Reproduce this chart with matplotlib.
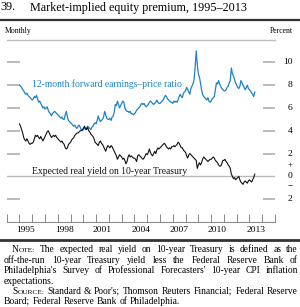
import numpy as np
import matplotlib
matplotlib.use("Agg")
import matplotlib.pyplot as plt
from matplotlib.transforms import IdentityTransform, blended_transform_factory

plt.rcParams['font.family'] = ['Liberation Serif', 'DejaVu Serif']

# ---------------- data ----------------
start_year = 1995
ep_ratio = [
    8.0, 7.9, 7.8, 7.6, 7.5, 7.3, 7.2, 7.3, 7.1, 7.0, 6.9, 6.8,   # 1995
    6.7, 6.8, 7.0, 6.9, 7.1, 6.8, 6.5, 6.6, 6.4, 6.2, 6.0, 6.1,   # 1996
    5.9, 6.0, 6.1, 5.8, 5.6, 5.5, 5.3, 5.5, 5.6, 5.7, 5.6, 5.5,   # 1997
    5.4, 5.3, 5.2, 5.1, 5.2, 5.0, 5.0, 5.4, 5.7, 5.2, 4.9, 4.8,   # 1998
    4.7, 4.6, 4.5, 4.4, 4.5, 4.3, 4.2, 4.4, 4.5, 4.3, 4.1, 4.0,   # 1999
    4.1, 4.3, 4.1, 4.2, 4.4, 4.3, 4.2, 4.1, 4.3, 4.4, 4.6, 4.7,   # 2000
    4.6, 4.9, 5.3, 5.0, 4.8, 4.9, 5.0, 5.2, 5.7, 5.4, 5.1, 5.0,   # 2001
    5.0, 5.1, 4.9, 5.2, 5.3, 5.6, 6.3, 6.2, 6.6, 6.3, 6.0, 6.2,   # 2002
    6.4, 6.6, 6.5, 6.0, 5.8, 5.7, 5.7, 5.6, 5.7, 5.5, 5.5, 5.4,   # 2003
    5.5, 5.6, 5.8, 5.9, 6.0, 6.1, 6.3, 6.4, 6.3, 6.4, 6.2, 6.1,   # 2004
    6.2, 6.3, 6.5, 6.6, 6.5, 6.4, 6.3, 6.4, 6.5, 6.7, 6.5, 6.4,   # 2005
    6.4, 6.5, 6.6, 6.7, 6.9, 7.1, 7.0, 6.8, 6.7, 6.6, 6.5, 6.5,   # 2006
    6.4, 6.6, 6.5, 6.6, 6.5, 6.7, 7.0, 7.2, 7.0, 6.9, 7.3, 7.4,   # 2007
    7.5, 7.8, 7.6, 7.4, 7.2, 7.7, 7.9, 8.1, 8.5, 9.6, 11.0, 9.8,  # 2008
    9.0, 8.7, 8.2, 7.6, 7.2, 7.0, 6.9, 6.8, 6.7, 6.9, 6.6, 6.5,   # 2009
    6.6, 6.8, 6.9, 7.0, 7.6, 8.2, 8.1, 8.4, 8.1, 7.9, 7.7, 7.6,   # 2010
    7.5, 7.5, 7.6, 7.8, 7.9, 8.2, 8.4, 9.5, 9.0, 8.8, 8.5, 8.2,   # 2011
    8.0, 7.8, 7.7, 7.9, 8.4, 8.2, 8.0, 7.8, 7.6, 7.8, 8.0, 7.7,   # 2012
    7.6, 7.5, 7.3, 7.2, 7.0, 7.4,                                  # 2013
]
real_yield = [
    4.6, 4.4, 4.1, 3.8, 3.4, 3.2, 3.1, 3.3, 3.1, 2.9, 2.8, 2.9,   # 1995
    2.9, 3.0, 3.3, 3.6, 3.5, 3.6, 3.4, 3.3, 3.5, 3.3, 3.1, 3.3,   # 1996
    3.5, 3.7, 3.9, 4.0, 3.8, 3.6, 3.4, 3.5, 3.6, 3.5, 3.6, 3.4,   # 1997
    3.3, 3.2, 3.1, 3.0, 3.1, 2.9, 2.8, 2.5, 2.4, 2.5, 2.8, 2.9,   # 1998
    3.0, 3.2, 3.3, 3.4, 3.6, 3.7, 3.8, 3.8, 3.9, 4.0, 4.0, 4.1,   # 1999
    4.2, 4.4, 4.2, 4.1, 4.3, 4.0, 3.9, 3.7, 3.6, 3.5, 3.3, 3.0,   # 2000
    2.9, 2.8, 2.7, 3.0, 3.1, 2.9, 2.8, 2.6, 2.4, 2.2, 2.5, 2.7,   # 2001
    2.6, 2.5, 2.7, 2.6, 2.4, 2.2, 2.0, 1.8, 1.5, 1.7, 1.9, 1.8,   # 2002
    1.7, 1.5, 1.6, 1.4, 1.1, 1.3, 1.7, 1.9, 1.7, 1.8, 1.7, 1.6,   # 2003
    1.6, 1.5, 1.3, 1.8, 1.9, 1.8, 1.7, 1.6, 1.5, 1.6, 1.8, 2.0,   # 2004
    1.9, 2.1, 2.4, 2.1, 1.9, 1.8, 2.0, 2.2, 2.0, 2.3, 2.5, 2.4,   # 2005
    2.5, 2.6, 2.7, 2.8, 2.9, 2.8, 2.6, 2.5, 2.4, 2.5, 2.4, 2.6,   # 2006
    2.6, 2.7, 2.6, 2.7, 2.8, 3.0, 2.9, 2.7, 2.5, 2.5, 2.3, 2.2,   # 2007
    2.1, 1.8, 1.6, 1.9, 2.0, 1.9, 1.8, 1.7, 1.6, 1.5, 1.4, 0.7,   # 2008
    1.0, 1.2, 1.0, 1.2, 1.5, 1.7, 1.6, 1.5, 1.4, 1.3, 1.4, 1.5,   # 2009
    1.5, 1.6, 1.7, 1.6, 1.4, 1.3, 1.2, 1.0, 0.9, 0.9, 1.1, 1.4,   # 2010
    1.4, 1.5, 1.3, 1.2, 1.0, 0.9, 0.7, 0.2, 0.0, -0.2, -0.1, -0.3,  # 2011
    -0.2, -0.1, 0.0, -0.3, -0.5, -0.6, -0.7, -0.5, -0.4, -0.5, -0.6, -0.4,  # 2012
    -0.3, -0.4, -0.5, -0.3, -0.1, 0.2,                             # 2013
]
year_labels = [1995, 1998, 2001, 2004, 2007, 2010, 2013]
ytick_values = [-2, 2, 4, 6, 8, 10]
ytick_labels = ['2', '2', '4', '6', '8', '10']

title_num = "39."
title_text = "Market-implied equity premium, 1995\u20132013"
series1_label = "12-month forward earnings\u2013price ratio"
series2_label = "Expected real yield on 10-year Treasury"

W, H = 300, 307
fig = plt.figure(figsize=(W / 100, H / 100), dpi=100)

def fx(px):
    return px / W

def fy(py):
    return 1 - py / H

ax = fig.add_axes([fx(6.7), fy(222), fx(275) - fx(6.7), fy(39.5) - fy(222)])
t1 = start_year + np.arange(len(ep_ratio)) / 12.0
t2 = start_year + np.arange(len(real_yield)) / 12.0
BLUE = '#1f82c2'
GRAY = '#a8a8a8'
ax.axhline(0, color='#b8b8b8', lw=1.0, zorder=1)
ax.plot(t1, ep_ratio, color=BLUE, lw=0.9, zorder=3)
ax.plot(t2, real_yield, color='#111111', lw=0.8, zorder=3)
ax.set_xlim(1994, 2015)
ax.set_ylim(-4, 12)

for s in ['left', 'right']:
    ax.spines[s].set_visible(False)
ax.spines['top'].set_color('#bdbdbd')
ax.spines['top'].set_linewidth(1.0)
ax.spines['bottom'].set_color('#8a8a8a')
ax.spines['bottom'].set_linewidth(0.8)

ax.set_xticks(np.arange(1994, 2016))
ax.set_xticklabels([])
ax.set_xticks([y + 0.5 for y in year_labels], minor=True)
ax.set_xticklabels([str(y) for y in year_labels], minor=True, fontsize=6.8)
ax.tick_params(axis='x', which='major', direction='in', length=5.5, width=0.7, color='#8a8a8a')
ax.tick_params(axis='x', which='minor', length=0, pad=3.2)

ax.set_yticks(ytick_values)
ax.set_yticklabels([])
ax.tick_params(axis='y', direction='in', length=9, width=1.1, color=GRAY,
               left=True, right=True, labelleft=False, labelright=False)

trans = blended_transform_factory(fig.transFigure, ax.transData)
for v, lab in zip(ytick_values, ytick_labels):
    ax.text(fx(292.5), v, lab, transform=trans, ha='right', va='center', fontsize=6.8)
ax.text(fx(290), 1.0, '+', transform=trans, ha='center', va='center', fontsize=6.5)
ax.text(fx(290), 0.05, '0', transform=trans, ha='center', va='center', fontsize=6.8)
ax.text(fx(290), -0.75, '\u2212', transform=trans, ha='center', va='center', fontsize=6.5)

ax.text(fx(32), 8.1, series1_label, transform=trans, color=BLUE, fontsize=6.9, va='center', ha='left')
ax.text(fx(32), 0.45, series2_label, transform=trans, color='#111111', fontsize=6.9, va='center', ha='left')

# header
fig.text(fx(0), fy(7.5), title_num, fontsize=8.7, va='center', ha='left')
fig.text(fx(30), fy(7.5), title_text, fontsize=8.7, va='center', ha='left')
fig.add_artist(plt.Line2D([0, 1], [fy(20), fy(20)], color='#333333', lw=1.6, transform=fig.transFigure))
fig.text(fx(5), fy(31), "Monthly", fontsize=5.6, va='center', ha='left')
fig.text(fx(293), fy(31), "Percent", fontsize=5.6, va='center', ha='right')
fig.add_artist(plt.Line2D([0, 1], [fy(239.5), fy(239.5)], color='#333333', lw=2.0, transform=fig.transFigure))

# notes (justified word by word)
SC = 0.78
note_lines = [
    ([[("N", 1), ("OTE:", SC)], "The", "expected", "real", "yield", "on", "10-year", "Treasury", "is", "defined", "as", "the"], 12, True),
    (["off-the-run", "10-year", "Treasury", "yield", "less", "the", "Federal", "Reserve", "Bank", "of"], 4, True),
    (["Philadelphia's", "Survey", "of", "Professional", "Forecasters'", "10-year", "CPI", "inflation"], 4, True),
    (["expectations."], 4, False),
    ([[("S", 1), ("OURCE:", SC)], "Standard", "&", "Poor's;", "Thomson", "Reuters", "Financial;", "Federal", "Reserve"], 12, True),
    (["Board;", "Federal", "Reserve", "Bank", "of", "Philadelphia."], 4, False),
]
baselines = [252, 263, 273, 284, 294, 304]
FS = 6.85
RIGHT = 298
fig.canvas.draw()
renderer = fig.canvas.get_renderer()
ident = IdentityTransform()

try:
    from matplotlib.backends.backend_agg import get_hinting_flag
except Exception:
    get_hinting_flag = None

def width_of(s, size):
    t = fig.text(0, 0, s, fontsize=size, transform=ident)
    w = t.get_window_extent(renderer).width
    t.remove()
    return w

def descent_of(s, size):
    try:
        t = fig.text(0, 0, s, fontsize=size, transform=ident)
        prop = t.get_fontproperties()
        t.remove()
        font = renderer._prepare_font(prop)
        font.set_text(s, 0, flags=get_hinting_flag())
        return font.get_descent() / 64.0
    except Exception:
        return 0.0

space_w = width_of("a a", FS) - width_of("aa", FS)

for (words, x0, just), yb in zip(note_lines, baselines):
    items = []
    for w in words:
        pieces = [(w, 1)] if isinstance(w, str) else w
        pw = [(txt, f, width_of(txt, FS * f), descent_of(txt, FS * f)) for txt, f in pieces]
        items.append((pw, sum(p[2] for p in pw)))
    total = sum(it[1] for it in items)
    if just and len(items) > 1:
        gap = max((RIGHT - x0 - total) / (len(items) - 1), 0.5 * space_w)
    else:
        gap = space_w
    cx = x0
    for pw, wsum in items:
        px = cx
        for txt, f, w, d in pw:
            ydisp = (H - yb) + (d - round(d))
            fig.text(px, ydisp, txt, fontsize=FS * f, transform=ident,
                     ha='left', va='baseline')
            px += w
        cx += wsum + gap

fig.savefig("out.png", dpi=100)
